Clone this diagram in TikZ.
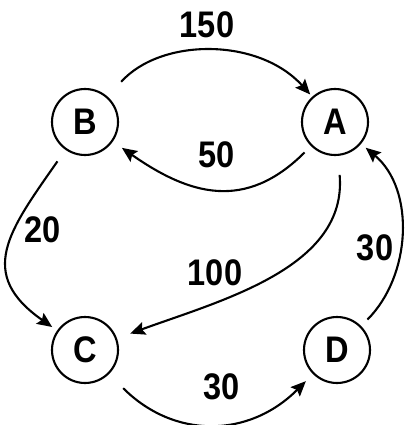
\documentclass[tikz,border=0pt]{standalone}
\usepackage{fontspec}
\setmainfont{Liberation Sans}
\usetikzlibrary{arrows.meta}
\newcommand{\lbl}[1]{\scalebox{0.88}[1]{\bfseries #1}}
\tikzset{
  state/.style={circle,draw,line width=2.1pt,minimum size=66pt,inner sep=0pt,font=\fontsize{37}{37}\selectfont},
  edge/.style={line width=2.1pt,-{Stealth[length=15pt,width=13pt,inset=2.5pt]}},
  wlabel/.style={inner sep=0pt,font=\fontsize{37}{37}\selectfont}
}
\begin{document}
\begin{tikzpicture}[x=1pt,y=-1pt]
\useasboundingbox (0,0) rectangle (405,425);
\node[state] (B) at (85,122) {\lbl{B}};
\node[state] (A) at (335,122) {\lbl{A}};
\node[state] (C) at (85,350) {\lbl{C}};
\node[state] (D) at (337,350) {\lbl{D}};

\draw[edge,shorten <=20pt,shorten >=3pt] (B) to[out=48,in=132] (A);
\draw[edge,shorten <=9pt,shorten >=11pt] (A) to[out=225,in=-35,looseness=1.2] (B);
\draw[edge,shorten <=14pt,shorten >=6pt] (B) to[out=235,in=145,looseness=1.4] (C);
\draw[edge,shorten <=19pt,shorten >=14pt] (A) to[out=-85,in=20] (C);
\draw[edge,shorten <=20pt,shorten >=10pt] (C) to[out=-45,in=-135,looseness=1.15] (D);
\draw[edge,shorten <=9pt,shorten >=6pt] (D) to[out=45,in=-40] (A);

\node[wlabel] (l150) at (207,25) {\lbl{150}};
\node[wlabel] (l50) at (217,155) {\lbl{50}};
\node[wlabel] (l20) at (43,230) {\lbl{20}};
\node[wlabel] (l100) at (215,273) {\lbl{100}};
\node[wlabel] (l30b) at (222,387) {\lbl{30}};
\node[wlabel] (l30r) at (375,248) {\lbl{30}};
\end{tikzpicture}
\end{document}
